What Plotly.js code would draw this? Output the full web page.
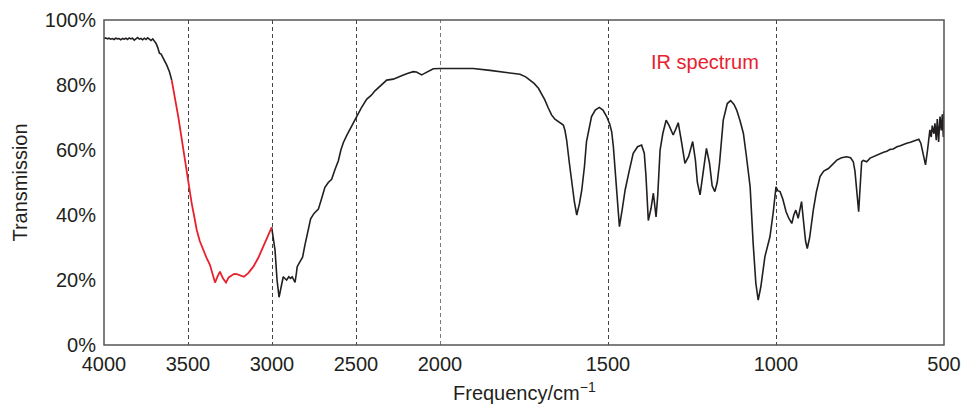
<!DOCTYPE html>
<html>
<head>
<meta charset="utf-8">
<script src="https://cdn.plot.ly/plotly-3.0.1.min.js"></script>
<style>html,body{margin:0;padding:0;background:#fff;}#chart{width:964px;height:410px;}</style>
</head>
<body>
<div id="chart"></div>
<script>
// ---- Data (wavenumber cm^-1, transmission %) ----
var waveHigh = [4000,3990,3980,3970,3960,3950,3940,3930,3920,3910,3900,3890,3880,3870,3860,3850,3840,3830,3820,3810,3800,3790,3780,3770,3760,3750,3740,3730,3720,3710,3700,3690,3680,3670,3660,3650,3640,3627,3610,3597];
var transHigh = [94.3,94.5,94.2,94.4,94.1,94.3,94.0,94.4,94.2,94.3,93.9,94.3,94.1,94.4,94.0,94.5,94.2,94.4,93.8,94.3,94.6,94.1,94.3,93.9,94.4,94.0,94.5,94.1,93.7,94.2,93.6,92.8,91.5,89.8,89.5,88.6,87.5,86.2,84.0,81.5];

var waveOH = [3597,3580,3558,3540,3528,3515,3502,3490,3478,3462,3448,3430,3409,3390,3369,3355,3339,3325,3310,3292,3274,3258,3240,3225,3210,3190,3167,3140,3111,3080,3052,3025,3002];
var transOH = [81.5,77.0,70.3,64.3,60.0,55.5,50.8,46.8,43.6,39.3,35.4,32.0,29.2,26.9,24.6,22.0,19.2,21.0,22.6,20.5,19.2,20.8,21.5,21.9,21.8,21.4,21.0,22.2,24.1,27.0,30.3,33.5,36.2];

var waveLow = [3002,2992,2982,2970,2958,2945,2933,2920,2913,2900,2890,2880,2870,2863,2855,2850,2835,2818,2805,2794,2780,2770,2750,2724,2705,2685,2665,2645,2625,2605,2590,2575,2555,2536,2515,2496,2470,2437,2410,2387,2350,2317,2278,2250,2218,2190,2159,2140,2125,2109,2095,2079,2060,2040,2000,
  1940,1901,1851,1802,1762,1745,1732,1720,1707,1695,1688,1678,1668,1658,1648,1633,1628,1623,1615,1608,1600,1593,1585,1578,1570,1564,1555,1549,1538,1526,1515,1504,1495,1489,1484,1479,1472,1466,1458,1449,1437,1425,1412,1400,1392,1387,1380,1372,1365,1360,1357,1352,1345,1337,1327,1318,1306,1298,1291,1282,1271,1260,1248,1240,1234,1226,1217,1207,1198,1190,1182,1175,1168,1157,1145,1135,1125,1117,1107,1097,1088,1077,1068,1060,1053,1045,1033,1025,1018,1008,1000,
  995,988,980,970,962,953,947,941,934,928,924,918,912,907,900,889,880,869,858,844,830,819,805,790,778,770,765,760,754,750,745,740,730,720,710,700,690,680,670,660,651,640,630,620,611,600,590,581,575,569,562,555,549,542,538,535,530,527,523,520,516,512,508,505,502,500];
var transLow = [36.2,33.0,29.2,20.0,14.7,18.0,21.0,20.3,20.0,21.0,20.5,21.0,20.0,19.3,22.0,24.1,25.5,27.0,30.5,33.2,36.8,38.8,40.5,41.8,45.0,48.5,50.0,51.0,54.0,56.7,60.0,62.3,64.5,66.4,68.5,70.5,72.8,75.6,76.8,78.2,80.0,81.5,81.8,82.5,83.1,83.6,84.1,84.0,83.6,83.1,83.5,83.9,84.6,85.0,85.1,
  85.0,85.1,84.5,83.9,83.3,82.5,81.5,80.5,79.0,77.0,75.4,73.0,70.8,69.5,68.7,67.7,66.0,63.0,56.0,49.7,44.0,40.0,43.5,47.7,55.0,62.6,67.5,70.3,72.3,73.1,72.3,70.3,68.0,65.6,61.0,54.9,45.0,36.4,41.5,47.7,53.5,59.0,61.0,61.5,59.0,52.0,38.3,42.0,46.7,43.0,39.4,46.0,60.0,65.0,69.2,67.5,64.6,66.5,68.4,63.0,55.9,58.0,62.6,57.0,50.0,46.2,53.0,60.5,56.0,49.0,47.2,50.0,56.0,69.2,74.3,75.2,74.0,72.3,69.0,65.1,58.0,48.7,31.3,19.0,13.8,18.0,27.2,30.5,33.3,41.0,48.7,
  47.5,47.2,45.0,41.0,39.0,37.4,40.0,41.5,39.0,42.0,44.1,38.0,32.0,29.7,33.0,41.5,47.0,51.8,53.5,54.3,55.8,56.9,57.6,57.9,57.6,56.4,53.5,47.7,41.0,48.0,56.4,56.8,56.4,57.5,58.0,58.5,59.0,59.3,59.6,60.2,60.3,61.0,61.3,61.8,62.1,62.4,62.8,63.1,63.3,62.1,59.0,55.4,60.0,66.2,64.0,67.5,65.0,68.2,63.0,69.5,62.5,70.3,66.0,71.0,64.0,72.0];

var ticksLeft = [4000,3500,3000,2500];
var ticksRight = [2000,1500,1000,500];
var yTicks = [0,20,40,60,80,100];
var yTickText = ['0%','20%','40%','60%','80%','100%'];
var gridBreak = [2000];

// split a series at the scale break (2000 cm^-1)
function part(w, t, hi) {
  var xs = [], ys = [];
  for (var i = 0; i < w.length; i++) {
    if ((hi && w[i] >= 2000) || (!hi && w[i] <= 2000)) { xs.push(w[i]); ys.push(t[i]); }
  }
  return {x: xs, y: ys};
}

var black = '#231f20', red = '#e8212e';
function mkFont(color) { return {family: 'Liberation Sans, Arial, sans-serif', size: 20, color: color}; }

var lowHi = part(waveLow, transLow, true), lowLo = part(waveLow, transLow, false);
var traces = [
  {x: waveHigh, y: transHigh, xaxis: 'x', yaxis: 'y', mode: 'lines', line: {color: black, width: 1.6}},
  {x: lowHi.x, y: lowHi.y, xaxis: 'x', yaxis: 'y', mode: 'lines', line: {color: black, width: 1.6}},
  {x: lowLo.x, y: lowLo.y, xaxis: 'x2', yaxis: 'y', mode: 'lines', line: {color: black, width: 1.6}},
  {x: waveOH, y: transOH, xaxis: 'x', yaxis: 'y', mode: 'lines', line: {color: red, width: 1.8}}
];

function xStyle() {
  return {showgrid: true, gridcolor: '#444', gridwidth: 1, griddash: '4px,3px', zeroline: false, showline: false,
    ticks: 'outside', ticklen: 1, tickcolor: 'rgba(0,0,0,0)', tickfont: mkFont(black), tickmode: 'array', fixedrange: true};
}

var gridShapes = gridBreak.map(function (v) {
  return {type: 'line', xref: 'x2', yref: 'paper', x0: v, x1: v, y0: 0, y1: 1, line: {color: '#222', width: 1.2, dash: '4px,3px'}, layer: 'above'};
});

var layout = {
  width: 964, height: 410,
  margin: {l: 104, r: 20, t: 20, b: 65},
  paper_bgcolor: '#fff', plot_bgcolor: '#fff',
  showlegend: false,
  font: mkFont(black),
  xaxis: Object.assign(xStyle(), {domain: [0, 0.4], range: [4000, 2000], tickvals: ticksLeft, ticktext: ticksLeft.map(String), anchor: 'y'}),
  xaxis2: Object.assign(xStyle(), {domain: [0.4, 1], range: [2000, 500], tickvals: ticksRight, ticktext: ticksRight.map(String), anchor: 'y'}),
  yaxis: {range: [0, 100], tickmode: 'array', tickvals: yTicks, ticktext: yTickText, showgrid: false, zeroline: false, showline: false,
    ticks: 'outside', ticklen: 3, tickcolor: 'rgba(0,0,0,0)', tickfont: mkFont(black), fixedrange: true,
    automargin: 'left', title: {text: 'Transmission', font: mkFont(black), standoff: 11}},
  shapes: gridShapes.concat([{type: 'rect', xref: 'paper', yref: 'paper', x0: 0, x1: 1, y0: 0, y1: 1, line: {color: '#555', width: 1.5}, layer: 'above'}]),
  annotations: [
    {xref: 'paper', yref: 'paper', x: 0.5, y: -0.142, yanchor: 'middle', xanchor: 'center', showarrow: false,
     text: 'Frequency/cm<sup>\u22121</sup>', font: mkFont(black)},
    {xref: 'x2', yref: 'y', x: 1211, y: 87.1, xanchor: 'center', yanchor: 'middle', showarrow: false,
     text: 'IR spectrum', font: mkFont(red)}
  ]
};

Plotly.newPlot('chart', traces, layout, {displayModeBar: false, staticPlot: true});
</script>
</body>
</html>
